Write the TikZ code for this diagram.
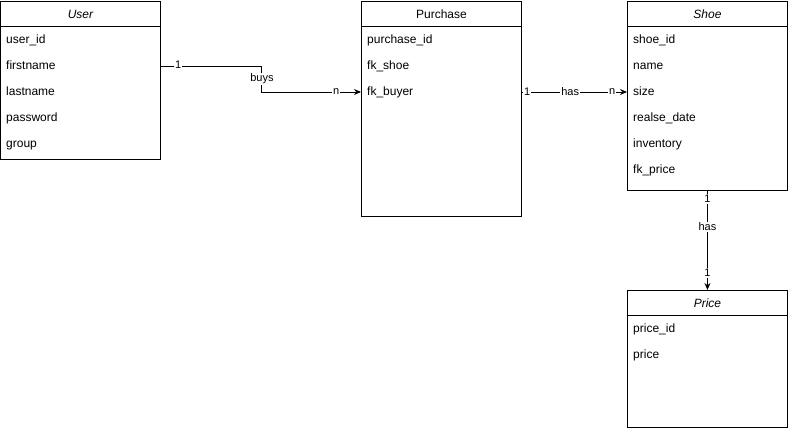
\documentclass[tikz,border=0pt]{standalone}
\usepackage{fontspec}
\setmainfont{Liberation Sans}
\usetikzlibrary{arrows.meta}

\begin{document}
\begin{tikzpicture}[x=1pt,y=-1pt,
        table/.style={draw,line width=0.9pt,anchor=north west,inner sep=0pt,minimum width=160pt},
        title/.style={font=\fontsize{12}{14}\selectfont\itshape},
        field/.style={anchor=west,inner sep=0pt,text height=8.6pt,text depth=2.5pt,font=\fontsize{12}{14}\selectfont},
        lbl/.style={fill=white,inner sep=1pt,font=\fontsize{11}{13}\selectfont},
        rel/.style={line width=0.9pt,-{Stealth[length=7pt,width=6pt]}}]
    \useasboundingbox (0,0) rectangle (788,429);

    % tables
    \node[table,minimum height=158pt] (user) at (0,1) {};
    \node[table,minimum height=215pt] (purchase) at (361,1) {};
    \node[table,minimum height=189pt] (shoe) at (627,1) {};
    \node[table,minimum height=137pt] (price) at (627,290) {};

    \foreach \t in {user,purchase,shoe,price}
        \draw[line width=0.9pt] ([yshift=-25pt]\t.north west) -- ([yshift=-25pt]\t.north east);

    \node[title] at ([yshift=-13pt]user.north) {User};
    \node[title,font=\fontsize{12}{14}\selectfont] at ([yshift=-13pt]purchase.north) {Purchase};
    \node[title] at ([yshift=-13pt]shoe.north) {Shoe};
    \node[title] at ([yshift=-13pt]price.north) {Price};

    % fields
    \foreach \f [count=\i] in {user\_id,firstname,lastname,password,group}
        \node[field] (user-\i) at (6,{14+26*\i}) {\f};
    \foreach \f [count=\i] in {purchase\_id,fk\_shoe,fk\_buyer}
        \node[field] (purchase-\i) at (367,{14+26*\i}) {\f};
    \foreach \f [count=\i] in {shoe\_id,name,size,realse\_date,inventory,fk\_price}
        \node[field] (shoe-\i) at (633,{14+26*\i}) {\f};
    \foreach \f [count=\i] in {price\_id,price}
        \node[field] (price-\i) at (633,{303+26*\i}) {\f};

    % relations
    \draw[rel] (user.east |- user-2) -- node[lbl,pos=0.17,yshift=1.5pt]{1} ++(101,0)
        |- node[lbl,pos=0.25]{buys} node[lbl,pos=0.875]{n} (purchase.west |- purchase-3);
    \draw[rel] (purchase.east |- purchase-3) -- node[lbl,pos=0.05]{1} node[lbl,pos=0.46]{has}
        node[lbl,pos=0.86]{n} (shoe.west |- shoe-3);
    \draw[rel] (shoe.south) -- node[lbl,pos=0.08]{1} node[lbl,pos=0.36]{has}
        node[lbl,pos=0.83]{1} (price.north);
\end{tikzpicture}
\end{document}
